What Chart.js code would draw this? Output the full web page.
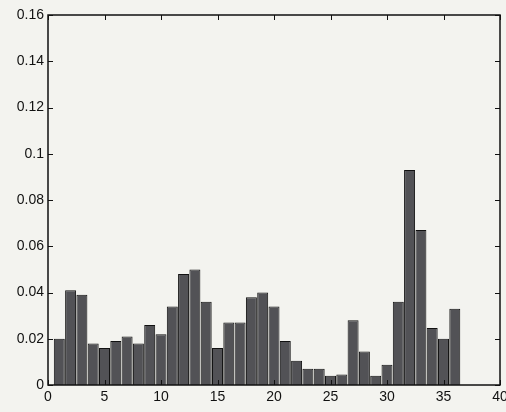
<!DOCTYPE html>
<html>
<head>
<meta charset="utf-8">
<script src="https://cdn.jsdelivr.net/npm/chart.js@4/dist/chart.umd.min.js"></script>
<style>
html,body{margin:0;padding:0;background:#f3f3ef;}
#wrap{width:506px;height:412px;}
</style>
</head>
<body>
<div id="wrap"><canvas id="c" width="506" height="412"></canvas></div>
<script>
const positions = [1,2,3,4,5,6,7,8,9,10,11,12,13,14,15,16,17,18,19,20,21,22,23,24,25,26,27,28,29,30,31,32,33,34,35,36];
const values = [0.020,0.041,0.039,0.018,0.016,0.019,0.021,0.018,0.026,0.022,0.034,0.048,0.050,0.036,0.016,0.027,0.027,0.038,0.040,0.034,0.019,0.0105,0.007,0.007,0.004,0.0045,0.028,0.0145,0.004,0.0088,0.036,0.093,0.067,0.0247,0.020,0.033];
const xTicks = [0,5,10,15,20,25,30,35,40];
const yTicks = [0,0.02,0.04,0.06,0.08,0.1,0.12,0.14,0.16];

const boxPlugin = {
  id:'box',
  afterDatasetsDraw(chart){
    const {ctx, chartArea:a, scales:{x,y}} = chart;
    ctx.save();
    ctx.strokeStyle = '#111';
    ctx.lineWidth = 1.5;
    ctx.strokeRect(a.left, a.top, a.right-a.left, a.bottom-a.top);
    ctx.lineWidth = 1;
    const L = 5;
    xTicks.forEach(v=>{
      const px = Math.round(x.getPixelForValue(v))+0.5;
      ctx.beginPath();
      ctx.moveTo(px,a.bottom); ctx.lineTo(px,a.bottom-L);
      ctx.moveTo(px,a.top); ctx.lineTo(px,a.top+L);
      ctx.stroke();
    });
    yTicks.forEach(v=>{
      const py = Math.round(y.getPixelForValue(v))+0.5;
      ctx.beginPath();
      ctx.moveTo(a.left,py); ctx.lineTo(a.left+L,py);
      ctx.moveTo(a.right,py); ctx.lineTo(a.right-L,py);
      ctx.stroke();
    });
    ctx.restore();
  }
};

new Chart(document.getElementById('c'), {
  type:'bar',
  data:{
    datasets:[{
      data: positions.map((p,i)=>({x:p, y:values[i]})),
      backgroundColor:'#525256',
      borderColor:'#111',
      borderWidth:1,
      barPercentage:0.97,
      categoryPercentage:1
    }]
  },
  options:{
    responsive:false,
    animation:false,
    layout:{padding:{top:15,right:6,left:0,bottom:0}},
    plugins:{legend:{display:false},tooltip:{enabled:false}},
    scales:{
      x:{
        type:'linear', min:0, max:40, offset:false,
        afterBuildTicks(s){ s.ticks = xTicks.map(v=>({value:v})); },
        afterFit(s){ s.height = 27; s.paddingRight = 0; s.paddingLeft = 0; },
        grid:{display:false, drawTicks:false},
        border:{display:false},
        ticks:{color:'#111', font:{family:'Liberation Sans', size:14}, padding:4, maxRotation:0, autoSkip:false, callback:v=>String(v)}
      },
      y:{
        type:'linear', min:0, max:0.16,
        afterBuildTicks(s){ s.ticks = yTicks.map(v=>({value:v})); },
        afterFit(s){ s.width = 48; },
        grid:{display:false, drawTicks:false},
        border:{display:false},
        ticks:{color:'#111', font:{family:'Liberation Sans', size:14}, padding:4, autoSkip:false, callback:v=>String(+v.toFixed(2))}
      }
    }
  },
  plugins:[boxPlugin]
});
</script>
</body>
</html>
